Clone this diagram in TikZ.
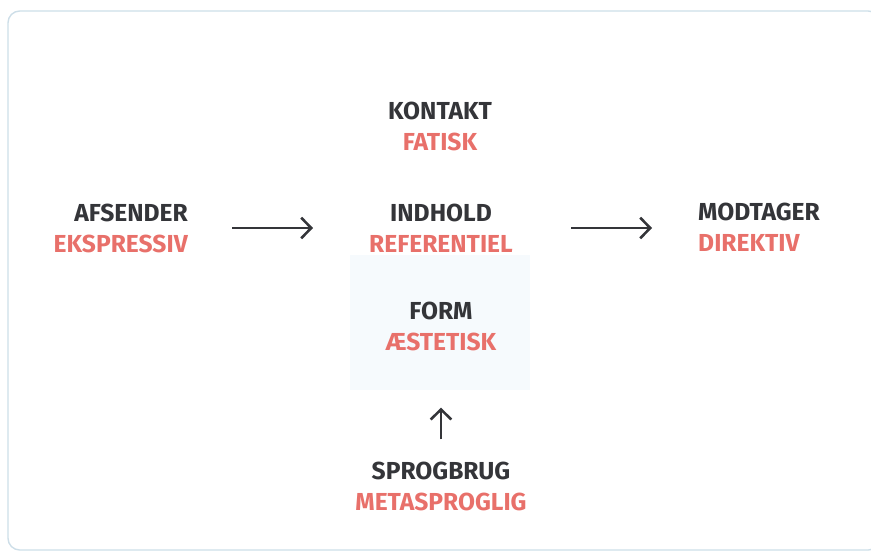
\documentclass[tikz,border=0pt]{standalone}
\usepackage{fontspec}
\setmainfont{Fira Sans}
\usetikzlibrary{positioning,arrows.meta,calc}
\definecolor{ink}{RGB}{52,53,57}
\definecolor{role}{RGB}{232,112,106}
\definecolor{frame}{RGB}{205,222,232}
\definecolor{haze}{RGB}{246,250,253}
\tikzset{
  func/.style={inner sep=0pt, font=\fontsize{21}{26.5}\selectfont\bfseries},
  flow/.style={-{Straight Barb[length=3mm, width=6.2mm]}, line width=2.2pt, draw=ink},
}
\newcommand{\fn}[2]{\textcolor{ink}{#1}\\\textcolor{role}{#2}}

\begin{document}
\begin{tikzpicture}[x=0.03cm, y=-0.03cm]
  \useasboundingbox (0,0) rectangle (871,552);

  %% frame and faint patch behind form
  \draw[frame, line width=1.2pt, rounded corners=10pt] (8,11) -- (8,550) -- (880,550) -- (880,11) -- cycle;
  \fill[haze] (350,255) rectangle (530,390);

  %% functions
  \node[func, align=center] (kontakt) at (440,126) {\fn{KONTAKT}{FATISK}};
  \node[func, align=right, anchor=east] (afsender) at (188,228) {\fn{AFSENDER}{EKSPRESSIV}};
  \node[func, align=center] (indhold) at (441,228) {\fn{INDHOLD}{REFERENTIEL}};
  \node[func, align=left, anchor=west] (modtager) at (698,227) {\fn{MODTAGER}{DIREKTIV}};
  \node[func, align=center] (form) at (441,326) {\fn{FORM}{ÆSTETISK}};
  \node[func, align=center] (sprogbrug) at (441,486) {\fn{SPROGBRUG}{METASPROGLIG}};

  %% arrows
  \draw[flow, shorten <=1.32cm, shorten >=1.68cm] (afsender.east) -- (indhold.west |- afsender.east);
  \draw[flow, shorten <=1.74cm, shorten >=1.38cm] (indhold.east) -- (modtager.west |- indhold.east);
  \draw[flow, shorten <=0.66cm, shorten >=1.71cm] (sprogbrug.north) -- (form.south);
\end{tikzpicture}
\end{document}
